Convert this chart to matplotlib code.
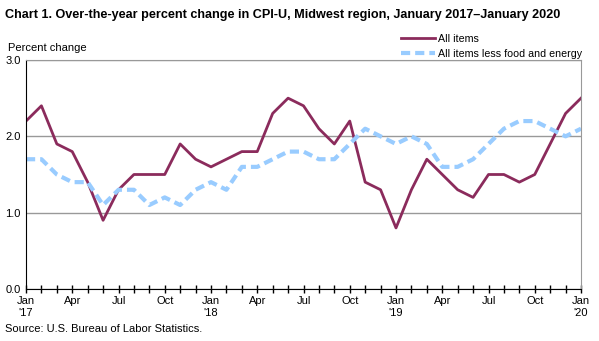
import numpy as np
import matplotlib.pyplot as plt

plt.rcParams['font.family'] = ['Liberation Sans', 'DejaVu Sans']

# monthly values, Jan 2017 - Jan 2020
all_items = [2.2, 2.4, 1.9, 1.8, 1.4, 0.9, 1.3, 1.5, 1.5, 1.5, 1.9, 1.7,
             1.6, 1.7, 1.8, 1.8, 2.3, 2.5, 2.4, 2.1, 1.9, 2.2, 1.4, 1.3,
             0.8, 1.3, 1.7, 1.5, 1.3, 1.2, 1.5, 1.5, 1.4, 1.5, 1.9, 2.3,
             2.5]
core = [1.7, 1.7, 1.5, 1.4, 1.4, 1.1, 1.3, 1.3, 1.1, 1.2, 1.1, 1.3,
        1.4, 1.3, 1.6, 1.6, 1.7, 1.8, 1.8, 1.7, 1.7, 1.9, 2.1, 2.0,
        1.9, 2.0, 1.9, 1.6, 1.6, 1.7, 1.9, 2.1, 2.2, 2.2, 2.1, 2.0,
        2.1]
tick_labels = ["Jan\n'17", "Apr", "Jul", "Oct", "Jan\n'18", "Apr", "Jul", "Oct",
               "Jan\n'19", "Apr", "Jul", "Oct", "Jan\n'20"]

x = np.arange(len(all_items))

fig = plt.figure(figsize=(5.99, 3.41), dpi=100)
ax = fig.add_axes([26 / 599, 1 - 289 / 341, 555 / 599, 229 / 341])

ax.plot(x, all_items, color='#8b2b5c', lw=2, label='All items')
ax.plot(x, core, color='#99ccff', lw=3, ls=(0, (2.2, 1.2)), label='All items less food and energy')

ax.set_xlim(0, 36)
ax.set_ylim(0, 3)
ax.set_yticks([0, 1, 2, 3])
ax.set_yticklabels(['0.0', '1.0', '2.0', '3.0'])
ax.set_xticks(np.arange(0, 37, 3))
ax.set_xticklabels(tick_labels)
ax.set_xticks(np.arange(0, 37), minor=True)
ax.tick_params(axis='x', which='both', direction='inout', length=6, width=1, labelsize=8, pad=2)
ax.tick_params(axis='y', length=0, labelsize=8, pad=4)
for lbl in ax.get_xticklabels():
    lbl.set_linespacing(1.2)

ax.grid(axis='y', color='#999999', lw=1)
ax.set_axisbelow(True)
for s in ['top', 'right']:
    ax.spines[s].set_color('#999999')
ax.spines['left'].set_color('black')
ax.spines['bottom'].set_color('black')

fig.text(0.008, 0.975, 'Chart 1. Over-the-year percent change in CPI-U, Midwest region, January 2017\u2013January 2020',
         fontsize=9.1, fontweight='bold', va='top')
fig.text(0.013, 0.86, 'Percent change', fontsize=8, va='center')
fig.text(0.008, 0.035, 'Source: U.S. Bureau of Labor Statistics.', fontsize=8, va='center')

fig.legend(loc='upper left', bbox_to_anchor=(396 / 599, 1 - 28.5 / 341), frameon=False,
           fontsize=7.7, handlelength=3.1, handletextpad=0.3, labelspacing=0.45, borderpad=0)

fig.savefig('out.png', dpi=100)
